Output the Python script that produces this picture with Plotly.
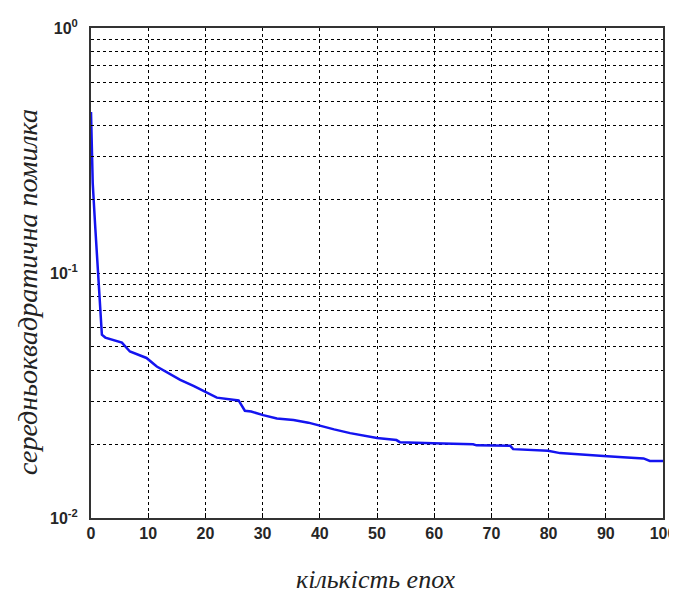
import plotly.graph_objects as go

# Data
epochs = [0, 0.3, 0.7, 1.2, 1.9, 2.5, 3.8, 5.4, 6.8, 8.5, 9.7, 11.5, 13.5, 15.6,
          18, 20, 22, 25.8, 26.9, 28, 30.1, 32.5, 35.4, 38, 40, 42.5, 45.3, 48.8,
          50, 53.4, 54, 59.8, 66.8, 67.4, 73.3, 73.8, 79.9, 82, 86, 89.6, 93,
          96.6, 97.7, 100]
mse = [0.454, 0.233, 0.16, 0.1, 0.056, 0.0545, 0.0535, 0.052, 0.0478, 0.0462,
       0.045, 0.0415, 0.039, 0.0366, 0.0345, 0.0327, 0.031, 0.0302, 0.0274,
       0.0272, 0.0263, 0.0255, 0.0251, 0.0245, 0.0238, 0.023, 0.0222, 0.0214,
       0.0212, 0.0208, 0.0204, 0.0202, 0.0200, 0.0198, 0.0197, 0.0191, 0.0188,
       0.0184, 0.0182, 0.0179, 0.0177, 0.0175, 0.0171, 0.0171]

x_ticks = [0, 10, 20, 30, 40, 50, 60, 70, 80, 90, 100]
y_ticks = [0.01, 0.1, 1]
y_tick_text = ["<b>10<sup>-2</sup></b>", "<b>10<sup>-1</sup></b>", "<b>10<sup>0</sup></b>"]
y_minor = [0.02, 0.03, 0.04, 0.05, 0.06, 0.07, 0.08, 0.09,
           0.2, 0.3, 0.4, 0.5, 0.6, 0.7, 0.8, 0.9]

x_title = "кількість епох"
y_title = "середньоквадратична помилка"

fig = go.Figure()
fig.add_trace(go.Scatter(x=epochs, y=mse, mode="lines",
                         line=dict(color="#1414f0", width=2.5),
                         showlegend=False))

grid_dash = "3px,3px"
tick_font = dict(family="Liberation Sans, Arial", size=16, color="#262626")
title_family = "Liberation Serif, serif"

fig.update_xaxes(
    range=[0, 100], tickvals=x_ticks, ticktext=["<b>%d</b>" % v for v in x_ticks],
    ticks="inside", ticklen=5, tickcolor="black",
    showgrid=True, gridcolor="black", gridwidth=1, griddash=grid_dash,
    showline=True, linecolor="#333333", linewidth=2, mirror=True,
    zeroline=False, tickfont=tick_font, automargin=False,
)
fig.update_yaxes(
    type="log", range=[-2, 0], tickvals=y_ticks, ticktext=y_tick_text,
    ticks="inside", ticklen=5, tickcolor="black", ticklabelstandoff=8,
    showgrid=True, gridcolor="black", gridwidth=1, griddash=grid_dash,
    minor=dict(tickvals=y_minor, showgrid=True, gridcolor="black", gridwidth=1,
               griddash=grid_dash, ticks="inside", ticklen=3, tickcolor="black"),
    showline=True, linecolor="#333333", linewidth=2, mirror=True,
    zeroline=False, tickfont=tick_font, automargin=False,
)
fig.add_annotation(text="<i>" + x_title + "</i>", xref="paper", yref="paper",
                   x=0.498, y=-0.1265, xanchor="center", yanchor="middle",
                   showarrow=False,
                   font=dict(family=title_family, size=26, color="#222222"))
fig.add_annotation(text="<i>" + y_title + "</i>", xref="paper", yref="paper",
                   x=-0.1119, y=0.461, xanchor="center", yanchor="middle",
                   textangle=-90, showarrow=False,
                   font=dict(family=title_family, size=28, color="#222222"))
# the page body adds an 8px offset, so the figure is sized to compensate
fig.update_layout(
    width=669, height=586,
    margin=dict(l=83, r=14, t=20, b=76),
    paper_bgcolor="white", plot_bgcolor="white",
)
fig.write_html("out.html")
